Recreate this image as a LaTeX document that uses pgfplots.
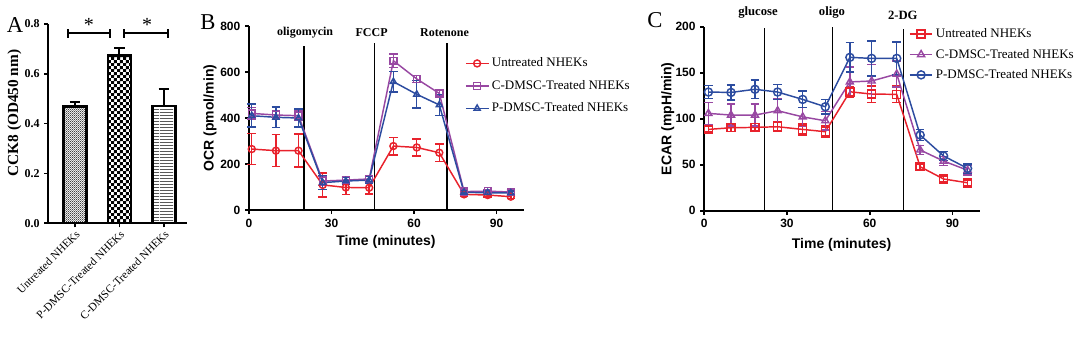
\documentclass[border=0pt]{standalone}
\usepackage{pgfplots}
\pgfplotsset{compat=1.18}
\usepackage{fontspec}
\setmainfont{Liberation Serif}
\setsansfont{Liberation Sans}
\usetikzlibrary{patterns}
\definecolor{cRed}{RGB}{232,34,44}
\definecolor{cPur}{RGB}{152,72,162}
\definecolor{cBlue}{RGB}{44,76,160}
\pgfdeclarepatternformonly{finechecker}{\pgfpointorigin}{\pgfqpoint{1.8pt}{1.8pt}}{\pgfqpoint{1.8pt}{1.8pt}}{%
  \pgfpathrectangle{\pgfpointorigin}{\pgfqpoint{0.7pt}{0.7pt}}%
  \pgfpathrectangle{\pgfqpoint{0.9pt}{0.9pt}}{\pgfqpoint{0.7pt}{0.7pt}}%
  \pgfusepath{fill}}
\pgfdeclarepatternformonly{bigchecker}{\pgfpointorigin}{\pgfqpoint{4.4pt}{4.4pt}}{\pgfqpoint{4.4pt}{4.4pt}}{%
  \pgfpathrectangle{\pgfpointorigin}{\pgfqpoint{2.25pt}{2.25pt}}%
  \pgfpathrectangle{\pgfqpoint{2.2pt}{2.2pt}}{\pgfqpoint{2.25pt}{2.25pt}}%
  \pgfusepath{fill}}
\pgfdeclarepatternformonly{hlinesdense}{\pgfpointorigin}{\pgfqpoint{10pt}{2.5pt}}{\pgfqpoint{10pt}{2.5pt}}{%
  \pgfsetlinewidth{0.55pt}%
  \pgfpathmoveto{\pgfqpoint{0pt}{1.25pt}}\pgfpathlineto{\pgfqpoint{10pt}{1.25pt}}%
  \pgfusepath{stroke}}

\pgfplotstableread{
t v e
1 265 68
9.8 258 70
18 258 72
26.8 109 52
35.2 98 30
43.7 97 28
52.5 278 38
61 272 37
69.2 249 38
78.2 68 10
86.8 65 8
95.2 58 8
}\ocrRed
\pgfplotstableread{
t v e
1 420 25
9.8 413 20
18 410 20
26.8 126 20
35.2 130 15
43.7 135 12
52.5 649 30
61 570 15
69.2 507 12
78.2 80 8
86.8 82 8
95.2 78 8
}\ocrPur
\pgfplotstableread{
t v e
1 410 50
9.8 403 45
18 400 40
26.8 119 30
35.2 126 15
43.7 130 15
52.5 558 45
61 503 60
69.2 457 45
78.2 77 8
86.8 75 8
95.2 74 8
}\ocrBlue
\pgfplotstableread{
t v e
1.5 88.4 3
9.7 90.2 4
18.4 90.6 4
26.6 91.3 5
35.7 88.4 6
43.9 85.9 6
52.8 129.3 6
60.7 126.8 9
69.8 126.5 9
78.3 47.8 3
86.8 34.5 3
95.5 30.4 3
}\ecarRed
\pgfplotstableread{
t v e
1.5 105.8 12
9.7 104 12
18.4 104 12
26.6 108.7 13
35.7 102 10
43.9 97.8 10
52.8 140 16
60.7 141 18
69.8 148.6 14
78.3 66 5
86.8 54 5
95.5 44 5
}\ecarPur
\pgfplotstableread{
t v e
1.5 129 7
9.7 128.6 8
18.4 132 10
26.6 129 8
35.7 121 9
43.9 113 8
52.8 166.7 16
60.7 165.6 19
69.8 165.6 18
78.3 82.3 6
86.8 59.5 5
95.5 46 5
}\ecarBlue

\pgfplotsset{
  panel/.style={
    scale only axis, anchor=south west, clip=false,
    axis lines*=left,
    axis line style={line width=1.5pt},
    tick align=outside, major tick length=3pt,
    tick style={line width=1.2pt, black},
    /pgf/number format/assume math mode=true,
  },
  series/.style={
    color=#1, line width=1.1pt, mark size=2.6pt,
    mark options={fill=white, solid, line width=1.1pt},
    error bars/y dir=both, error bars/y explicit,
    error bars/error bar style={line width=1.1pt},
    error bars/error mark options={rotate=90, mark size=3.2pt, line width=1.1pt},
  },
  barerr/.style={
    ybar, bar shift=0pt, bar width=0.52, draw=black, line width=1.8pt,
    error bars/y dir=plus, error bars/y explicit,
    error bars/error bar style={line width=1.5pt},
    error bars/error mark options={rotate=90, mark size=4pt, line width=1.5pt},
  },
}

\begin{document}
\begin{tikzpicture}
\useasboundingbox (0,0) rectangle (806.25pt,263.25pt);

% Panel letters
\node[font=\fontsize{17}{17}\selectfont] at (11.25pt,244.5pt) {A};
\node[font=\fontsize{17}{17}\selectfont] at (156pt,246.75pt) {B};
\node[font=\fontsize{17}{17}\selectfont] at (491.25pt,248.25pt) {C};

% ---------------- Panel A ----------------
\begin{axis}[panel,
  at={(36.2pt,95.8pt)}, width=103.8pt, height=149.5pt,
  xmin=-0.6, xmax=2.51, ymin=0, ymax=0.8,
  ytick={0,0.2,0.4,0.6,0.8},
  xtick={0,1,2},
  xticklabels={Untreated NHEKs, P-DMSC-Treated NHEKs, C-DMSC-Treated NHEKs},
  xticklabel style={rotate=45, anchor=north east, inner sep=1pt,
    font=\fontsize{8.5}{10}\selectfont},
  yticklabel style={font=\fontsize{9}{10}\selectfont\bfseries,
    /pgf/number format/.cd, fixed, fixed zerofill, precision=1},
  ylabel={CCK8 (OD450 nm)},
  ylabel style={font=\fontsize{11.5}{12}\selectfont\bfseries,
    at={(axis description cs:-0.245,0.553)}, anchor=center},
]
\addplot[barerr, pattern=finechecker] coordinates {(0,0.468) +- (0,0.02)};
\addplot[barerr, pattern=bigchecker] coordinates {(1,0.673) +- (0,0.029)};
\addplot[barerr, pattern=hlinesdense] coordinates {(2,0.471) +- (0,0.067)};
\draw[line width=1.5pt] (axis cs:-0.16,0.763) -- (axis cs:0.79,0.763);
\draw[line width=1.5pt] (axis cs:-0.16,0.745) -- (axis cs:-0.16,0.781);
\draw[line width=1.5pt] (axis cs:0.79,0.745) -- (axis cs:0.79,0.781);
\draw[line width=1.5pt] (axis cs:1.1,0.763) -- (axis cs:2.09,0.763);
\draw[line width=1.5pt] (axis cs:1.1,0.745) -- (axis cs:1.1,0.781);
\draw[line width=1.5pt] (axis cs:2.09,0.745) -- (axis cs:2.09,0.781);
\node[font=\fontsize{15}{15}\selectfont] at (axis cs:0.31,0.795) {*};
\node[font=\fontsize{15}{15}\selectfont] at (axis cs:1.62,0.795) {*};
\end{axis}

% ---------------- Panel B ----------------
\begin{axis}[panel,
  at={(186.75pt,105.75pt)}, width=206.25pt, height=138pt,
  xmin=0, xmax=100, ymin=0, ymax=800,
  xtick={0,30,60,90}, ytick={0,200,400,600,800},
  ticklabel style={font=\sffamily\bfseries\fontsize{9}{10}\selectfont},
  xlabel={Time (minutes)}, ylabel={OCR (pmol/min)},
  label style={font=\sffamily\bfseries\fontsize{10.5}{12}\selectfont},
  xlabel style={at={(axis description cs:0.498,-0.172)}, anchor=center},
  ylabel style={at={(axis description cs:-0.142,0.5)}, anchor=center},
  legend style={at={(axis description cs:0.77,0.857)}, anchor=north west,
    draw=none, fill=none, font=\fontsize{9.75}{11}\selectfont,
    row sep=4.6pt, cells={anchor=west}},
]
\draw[line width=0.8pt] (axis cs:20,0) -- (axis cs:20,713);
\draw[line width=0.8pt] (axis cs:45.6,0) -- (axis cs:45.6,726);
\draw[line width=0.8pt] (axis cs:72,0) -- (axis cs:72,726);
\node[font=\fontsize{9}{10}\selectfont\bfseries] at (axis cs:20.4,772) {oligomycin};
\node[font=\fontsize{9}{10}\selectfont\bfseries] at (axis cs:44.6,772) {FCCP};
\node[font=\fontsize{9}{10}\selectfont\bfseries] at (axis cs:71.1,772) {Rotenone};
\addplot[series=cRed, mark=o] table[x=t, y=v, y error=e] {\ocrRed};
\addlegendentry{Untreated NHEKs}
\addplot[series=cPur, mark=square] table[x=t, y=v, y error=e] {\ocrPur};
\addlegendentry{C-DMSC-Treated NHEKs}
\addplot[series=cBlue, mark=triangle] table[x=t, y=v, y error=e] {\ocrBlue};
\addlegendentry{P-DMSC-Treated NHEKs}
\end{axis}

% ---------------- Panel C ----------------
\begin{axis}[panel,
  at={(528.2pt,105.2pt)}, width=206.8pt, height=138pt,
  xmin=0, xmax=100, ymin=0, ymax=200,
  xtick={0,30,60,90}, ytick={0,50,100,150,200},
  ticklabel style={font=\sffamily\bfseries\fontsize{9}{10}\selectfont},
  xlabel={Time (minutes)}, ylabel={ECAR (mpH/min)},
  label style={font=\sffamily\bfseries\fontsize{10.5}{12}\selectfont},
  xlabel style={at={(axis description cs:0.498,-0.186)}, anchor=center},
  ylabel style={at={(axis description cs:-0.132,0.5)}, anchor=center},
  legend style={at={(axis description cs:0.727,1.02)}, anchor=north west,
    draw=none, fill=none, font=\fontsize{9.75}{11}\selectfont,
    row sep=3pt, cells={anchor=west}},
]
\draw[line width=0.8pt] (axis cs:22,0) -- (axis cs:22,199);
\draw[line width=0.8pt] (axis cs:46.6,0) -- (axis cs:46.6,200);
\draw[line width=0.8pt] (axis cs:72.4,0) -- (axis cs:72.4,197);
\node[font=\fontsize{9.5}{10}\selectfont\bfseries] at (axis cs:19.5,215) {glucose};
\node[font=\fontsize{9.5}{10}\selectfont\bfseries] at (axis cs:46.3,215) {oligo};
\node[font=\fontsize{9.5}{10}\selectfont\bfseries] at (axis cs:72,212.7) {2-DG};
\addplot[series=cRed, mark=square, mark size=3pt] table[x=t, y=v, y error=e] {\ecarRed};
\addlegendentry{Untreated NHEKs}
\addplot[series=cPur, mark=triangle, mark size=3pt] table[x=t, y=v, y error=e] {\ecarPur};
\addlegendentry{C-DMSC-Treated NHEKs}
\addplot[series=cBlue, mark=o, mark size=3pt] table[x=t, y=v, y error=e] {\ecarBlue};
\addlegendentry{P-DMSC-Treated NHEKs}
\end{axis}
\end{tikzpicture}
\end{document}
